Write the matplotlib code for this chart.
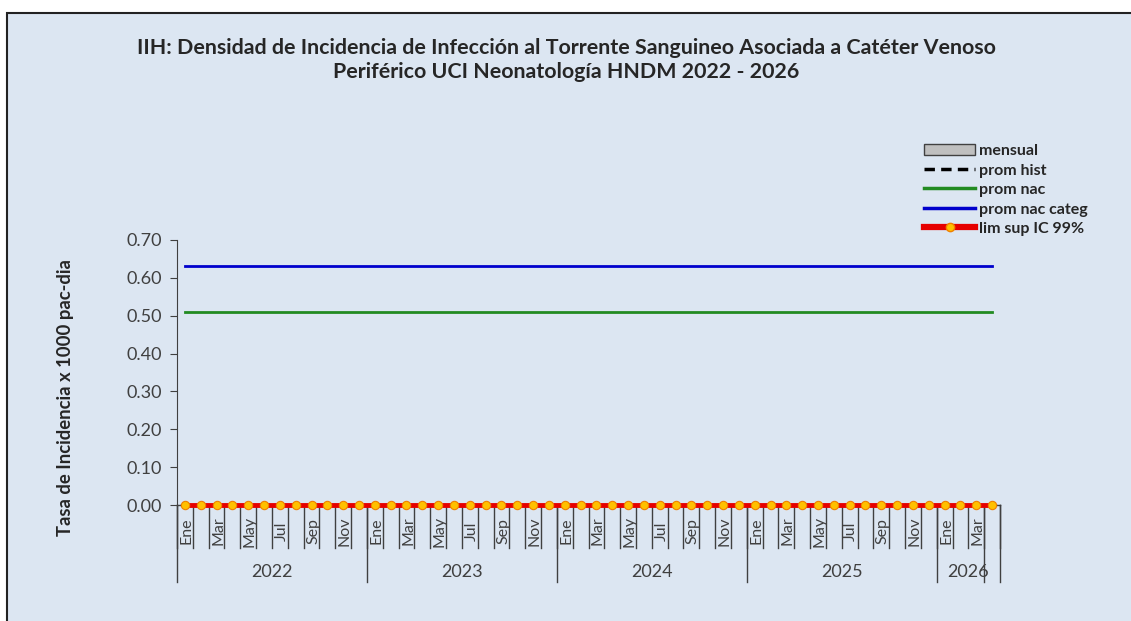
import numpy as np
import matplotlib
matplotlib.use("Agg")
import matplotlib.pyplot as plt
from matplotlib.patches import Rectangle, Patch
from matplotlib.lines import Line2D

plt.rcParams['font.family'] = ['Lato', 'DejaVu Sans']

# data
years = ['2022', '2023', '2024', '2025', '2026']
months_per_year = [12, 12, 12, 12, 4]
month_names = ['Ene', 'Feb', 'Mar', 'Abr', 'May', 'Jun', 'Jul', 'Ago', 'Sep', 'Oct', 'Nov', 'Dic']
n = sum(months_per_year)
mensual = [0.0] * n
prom_hist = [0.0] * n
prom_nac = [0.51] * n
prom_nac_categ = [0.63] * n
lim_sup = [0.0] * n
yticks = [0.0, 0.1, 0.2, 0.3, 0.4, 0.5, 0.6, 0.7]

W, H = 1131, 621
fig = plt.figure(figsize=(W / 100, H / 100), dpi=100)
fig.patch.set_facecolor('white')
bg = '#dce6f2'
txt = '#262626'
fig.patches.append(Rectangle((7 / W, -0.1), 1.1, 1 - 13 / H + 0.1, transform=fig.transFigure,
                             facecolor=bg, edgecolor='#222222', linewidth=1.5, zorder=-10))

ax = fig.add_axes([177 / W, 116 / H, 823 / W, 265 / H])
ax.set_facecolor('none')

x = np.arange(n) + 0.5
ax.bar(x, mensual, width=0.6, color='#bfbfbf', edgecolor='#404040', label='mensual')
ax.plot(x, prom_hist, color='black', linestyle='--', linewidth=2, label='prom hist')
ax.plot(x, prom_nac, color='#228b22', linewidth=2, label='prom nac')
ax.plot(x, prom_nac_categ, color='#0000cc', linewidth=2, label='prom nac categ')
ax.plot(x, lim_sup, color='#e60000', linewidth=3.5, marker='o', markersize=6,
        markerfacecolor='#ffc000', markeredgecolor='#f08000', markeredgewidth=0.8,
        label='lim sup IC 99%', clip_on=False, zorder=5)

ax.set_xlim(0, n)
ax.set_ylim(0, 0.7)
ax.set_yticks(yticks)
ax.set_yticklabels(['%.2f' % v for v in yticks], fontsize=13, color='#404040')
ax.tick_params(axis='y', direction='out', length=5, color='#404040', pad=6)
ax.set_xticks([])
for s in ['top', 'right', 'bottom']:
    ax.spines[s].set_visible(False)
ax.spines['left'].set_color('#404040')

ax.set_ylabel('Tasa de Incidencia x 1000 pac-dia', fontsize=13.3, fontweight='bold', color=txt)
ax.yaxis.set_label_coords(-0.125, 0.404)

# multi level category axis
tr = ax.get_xaxis_transform()
ph = 265.0
ax.plot([0, n], [0, 0], transform=tr, color='#404040', linewidth=1, clip_on=False, zorder=1)
for b in range(n + 1):
    ax.plot([b, b], [0, -43 / ph], transform=tr, color='#404040', linewidth=1, clip_on=False)
labels = []
for yi, cnt in enumerate(months_per_year):
    labels += month_names[:cnt]
for i, lab in enumerate(labels):
    if i % 12 % 2 == 0:
        ax.text(i + 0.6, -26 / ph, lab, transform=tr, rotation=90, ha='center', va='center',
                fontsize=11.5, color='#404040')
start = 0
for yr, cnt in zip(years, months_per_year):
    ax.plot([start, start], [0, -77 / ph], transform=tr, color='#404040', linewidth=1, clip_on=False)
    ax.text(start + cnt / 2, -67 / ph, yr, transform=tr, ha='center', va='center',
            fontsize=13, color='#404040')
    start += cnt
ax.plot([n, n], [0, -77 / ph], transform=tr, color='#404040', linewidth=1, clip_on=False)
ax.plot([n - 1, n - 1], [0, -77 / ph], transform=tr, color='#404040', linewidth=1, clip_on=False)

fig.text(566 / W, 1 - 60 / H,
         'IIH: Densidad de Incidencia de Infección al Torrente Sanguineo Asociada a Catéter Venoso\n'
         'Periférico UCI Neonatología HNDM 2022 - 2026',
         ha='center', va='center', fontsize=15.4, fontweight='bold', color=txt,
         linespacing=1.2)

handles = [Patch(facecolor='#bfbfbf', edgecolor='#404040'),
           Line2D([], [], color='black', linestyle=(0, (3, 1.8)), linewidth=2.5),
           Line2D([], [], color='#228b22', linewidth=2.5),
           Line2D([], [], color='#0000cc', linewidth=2.5),
           Line2D([], [], color='#e60000', linewidth=4.5, marker='o', markersize=6,
                  markerfacecolor='#ffc000', markeredgecolor='#f08000')]
leg = fig.legend(handles, ['mensual', 'prom hist', 'prom nac', 'prom nac categ', 'lim sup IC 99%'],
                 loc='upper left', bbox_to_anchor=(916 / W, 1 - 136 / H), frameon=False,
                 prop={'weight': 'bold', 'size': 11.5}, handlelength=3.2, handleheight=0.7,
                 labelspacing=0.33, handletextpad=0.25, borderpad=0)
for t in leg.get_texts():
    t.set_color(txt)

fig.savefig('out.png', dpi=100, facecolor=fig.get_facecolor())
